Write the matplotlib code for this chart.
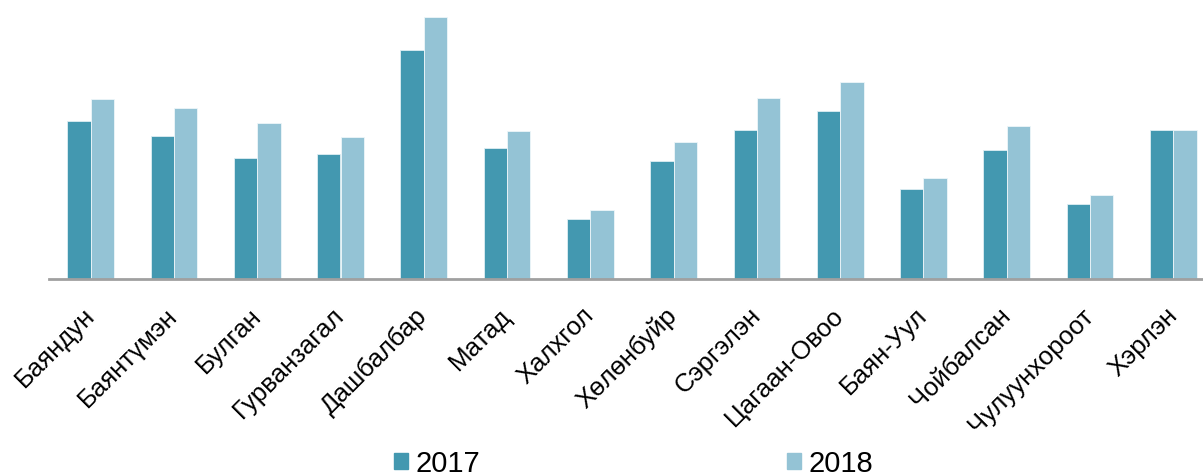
import matplotlib
matplotlib.use('Agg')
import matplotlib.pyplot as plt
from matplotlib.patches import Patch
import numpy as np

plt.rcParams['font.family'] = ['Liberation Sans', 'DejaVu Sans']

# districts
districts = ['Баяндун', 'Баянтүмэн', 'Булган', 'Гурванзагал', 'Дашбалбар', 'Матад',
             'Халхгол', 'Хөлөнбуйр', 'Сэргэлэн', 'Цагаан-Овоо', 'Баян-Уул',
             'Чойбалсан', 'Чулуунхороот', 'Хэрлэн']
# values (relative units)
v2017 = [158, 143, 121, 125, 229, 131, 60, 118, 149, 168, 90, 129, 75, 149]
v2018 = [180, 171, 156, 142, 262, 148, 69, 137, 181, 197, 101, 153, 84, 149]
years = ['2017', '2018']
colors = ['#4398b0', '#94c3d5']

fig = plt.figure(figsize=(12.03, 4.77), dpi=100)
ax = fig.add_axes([49 / 1203, 197 / 477, 1166 / 1203, 280 / 477])

x = np.arange(len(districts))
w = 0.28
ax.bar(x - w / 2, v2017, w, color=colors[0], edgecolor='#dfeef3', linewidth=0.6)
ax.bar(x + w / 2, v2018, w, color=colors[1], edgecolor='#eef6f9', linewidth=0.6)

ax.set_xlim(-0.5, len(districts) - 0.5)
ax.set_ylim(0, 280)
for s in ['top', 'right', 'left']:
    ax.spines[s].set_visible(False)
ax.spines['bottom'].set_color('#a0a0a0')
ax.spines['bottom'].set_linewidth(2)
ax.set_yticks([])
ax.set_xticks(x)
ax.set_xticklabels(districts, rotation=45, ha='right', va='center',
                   rotation_mode='anchor', fontsize=18.5)
ax.tick_params(axis='x', length=0, pad=23)

handles = [Patch(color=c) for c in colors]
fig.legend(handles, years, loc='center', bbox_to_anchor=(0.5266, 0.027), ncol=2,
           frameon=False, fontsize=21, handlelength=0.5, handleheight=0.45,
           handletextpad=0.25, columnspacing=10.5, borderpad=0)

fig.savefig('out.png', dpi=100)
